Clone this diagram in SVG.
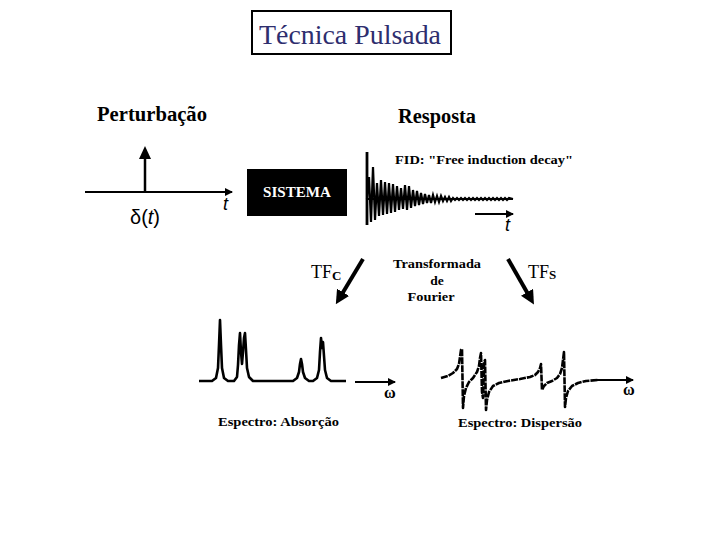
<svg xmlns="http://www.w3.org/2000/svg" width="720" height="540" viewBox="0 0 720 540">
<defs>
<style>
.hd{font-family:"Liberation Serif",serif;font-weight:bold;font-size:20px;fill:#000}
.lb{font-family:"Liberation Serif",serif;font-weight:bold;font-size:13.5px;fill:#000}
.tf{font-family:"Liberation Serif",serif;font-size:18px;fill:#000}
.it{font-family:"Liberation Sans",sans-serif;font-style:italic;font-size:18px;fill:#000}
.ax{stroke:#000;stroke-width:2;fill:none}
.sig{stroke:#000;stroke-width:2.6;fill:none;stroke-linejoin:round}
.om{font-family:"Liberation Serif",serif;font-weight:bold;font-size:16px;fill:#000}
</style>
<marker id="ah" markerWidth="8" markerHeight="8" refX="7" refY="4" orient="auto" markerUnits="userSpaceOnUse">
<path d="M0,0 L8,4 L0,8 Z" fill="#000"/>
</marker>
<marker id="big" markerWidth="14" markerHeight="14" refX="2" refY="7" orient="auto" markerUnits="userSpaceOnUse">
<path d="M0,0 L14,7 L0,14 Z" fill="#000"/>
</marker>
</defs>
<rect width="720" height="540" fill="#fff"/>

<g id="title">
<rect x="252" y="11" width="199" height="43" fill="#fff" stroke="#000" stroke-width="2"/>
<text x="350" y="44" text-anchor="middle" textLength="182" lengthAdjust="spacingAndGlyphs" style="font-family:'Liberation Serif',serif;font-size:28px;fill:#2e2e6e">Técnica Pulsada</text>
</g>

<g id="perturbacao">
<text class="hd" x="97" y="121" textLength="110" lengthAdjust="spacingAndGlyphs">Perturbação</text>
<line class="ax" x1="85" y1="192" x2="232" y2="192" marker-end="url(#ah)"/>
<line x1="145" y1="192" x2="145" y2="158" stroke="#000" stroke-width="2.5"/>
<path d="M139,159 L145,146 L151,159 Z" fill="#000"/>
<text class="it" x="223" y="210">t</text>
<text x="130" y="224" style="font-family:'Liberation Sans',sans-serif;font-size:20px;fill:#000">δ(<tspan font-style="italic">t</tspan>)</text>
</g>

<g id="sistema">
<rect x="247" y="169" width="100" height="47" fill="#000"/>
<text x="297" y="197" text-anchor="middle" textLength="68" lengthAdjust="spacingAndGlyphs" style="font-family:'Liberation Serif',serif;font-weight:bold;font-size:15px;fill:#fff">SISTEMA</text>
</g>

<g id="resposta">
<text class="hd" x="398" y="123" textLength="78" lengthAdjust="spacingAndGlyphs">Resposta</text>
<text class="lb" x="395" y="164" textLength="178" lengthAdjust="spacingAndGlyphs">FID: "Free induction decay"</text>
<line x1="367" y1="199" x2="513" y2="199" stroke="#000" stroke-width="2.2"/>
<line x1="367" y1="152" x2="367" y2="225" stroke="#000" stroke-width="2.8"/>
<polyline stroke="#000" stroke-width="2.2" fill="none" points="367,199 369,177 371,222 373,167 375,220 377,183 379,216 381,180 383,215 385,182 387,214 389,183 391,213 393,184 395,212 397,186 399,210 401,188 403,209 405,185 407,210 409,186 411,208 413,190 415,206 417,191 419,205 421,193 423,204 425,194 427,203 429,195 431,203 433,195 435,202 437,196 439,202 441,196 443,201 445,197 447,201 449,197 451,201 453,198 455,200 457,198 459,200 461,198 463,200 465,198 467,200 469,198 471,200 473,198 475,200 477,198 479,200 481,198 483,200 485,198 487,200 489,198 491,200 493,198 495,200 497,198 499,200 501,198 503,200 505,198 507,200 509,198 513,199"/>
<line class="ax" x1="475" y1="214" x2="513" y2="214" marker-end="url(#ah)"/>
<text class="it" x="505" y="231">t</text>
</g>

<g id="fourier">
<text class="lb" x="437" y="268" text-anchor="middle" textLength="88" lengthAdjust="spacingAndGlyphs">Transformada</text>
<text class="lb" x="437" y="285" text-anchor="middle">de</text>
<text class="lb" x="431" y="301" text-anchor="middle" textLength="47" lengthAdjust="spacingAndGlyphs">Fourier</text>
<text class="tf" x="311" y="278">TF<tspan font-size="13" font-weight="bold" dy="2">C</tspan></text>
<text class="tf" x="528" y="278">TF<tspan font-size="13" font-weight="bold" dy="1">S</tspan></text>
</g>

<g id="connectors">
<line x1="363" y1="259" x2="342" y2="294" stroke="#000" stroke-width="4" marker-end="url(#big)"/>
<line x1="508" y1="259" x2="528" y2="294" stroke="#000" stroke-width="4" marker-end="url(#big)"/>
</g>

<g id="absorcao">
<polyline class="sig" points="199,381 212,381 216,378 218,368 219,345 220,320 221,345 222,368 224,378 228,381 234,381 237,377 238,365 239,345 240,333 241,352 242,364 243,352 244,338 245,333 246,350 247,368 249,377 253,381 293,381 297,378 299,372 300,364 301,359 302,364 303,372 305,378 309,381 313,381 317,378 319,370 320,352 321,338 322,348 323,342 324,356 325,370 327,378 331,381 346,381"/>
<line class="ax" x1="355" y1="382" x2="395" y2="382" marker-end="url(#ah)"/>
<text class="om" x="384" y="398">ω</text>
<text class="lb" x="218" y="426" textLength="121" lengthAdjust="spacingAndGlyphs">Espectro: Absorção</text>
</g>

<g id="dispersao">
<polyline class="sig" stroke-dasharray="7 1" points="441,378 448,376 453,373 457,369 459,364 460,357 461,350 462,349 463,408 464,396 466,388 469,382 473,378 477,372 479,366 480,358 481,353 482,392 483,398 484,362 485,360 486,410 487,400 489,392 493,386 499,383 508,381 520,379 530,377 535,375 538,372 540,368 541,364 542,390 544,386 547,383 552,381 557,378 560,374 562,368 563,360 564,352 565,407 566,398 568,391 572,386 578,383 586,381 598,380"/>
<line class="ax" x1="595" y1="380" x2="633" y2="380" marker-end="url(#ah)"/>
<text class="om" x="623" y="395">ω</text>
<text class="lb" x="458" y="427" textLength="124" lengthAdjust="spacingAndGlyphs">Espectro: Dispersão</text>
</g>
</svg>
